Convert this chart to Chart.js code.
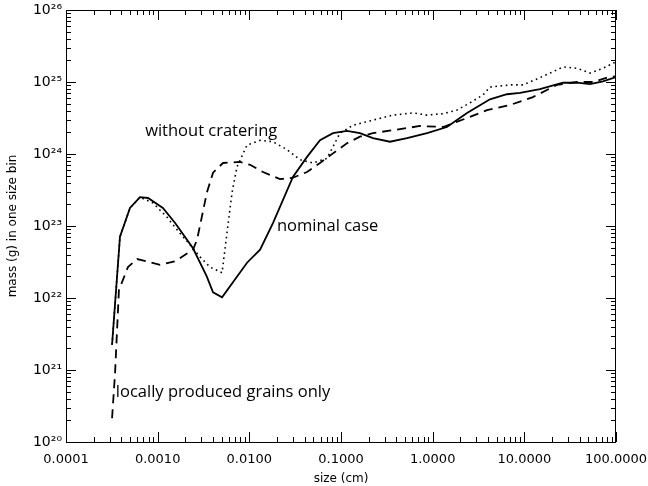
<!DOCTYPE html>
<html>
<head>
<meta charset="utf-8">
<script src="https://cdn.jsdelivr.net/npm/chart.js@4.4.1/dist/chart.umd.min.js"></script>
<style>
  html, body { margin: 0; padding: 0; background: #fff; }
  #wrap { width: 648px; height: 486px; }
</style>
</head>
<body>
<div id="wrap"><canvas id="massChart" width="648" height="486"></canvas></div>
<script>
// grain size (cm) and mass (g) per size bin
const nominalSize = [3.18e-4, 3.88e-4, 4.99e-4, 6.41e-4, 7.85e-4, 1.14e-3, 1.55e-3, 2.43e-3, 3.43e-3, 4.02e-3,
  5.04e-3, 9.44e-3, 1.31e-2, 1.81e-2, 2.99e-2, 4.26e-2, 5.90e-2, 8.18e-2, 0.116, 0.161,
  0.223, 0.342, 0.525, 0.867, 1.43, 2.37, 4.22, 6.46, 8.97, 14.8, 26.4, 37.6, 52.0, 72.1, 100];
const nominalMass = [2.24e21, 7.08e22, 1.78e23, 2.51e23, 2.45e23, 1.78e23, 1.10e23, 4.90e22, 2.00e22, 1.20e22,
  1.02e22, 3.09e22, 4.68e22, 1.10e23, 4.79e23, 9.12e23, 1.55e24, 1.95e24, 2.09e24, 1.95e24,
  1.66e24, 1.48e24, 1.66e24, 1.95e24, 2.37e24, 3.72e24, 5.75e24, 6.76e24, 7.08e24, 7.94e24, 9.77e24, 9.77e24, 9.33e24, 1.02e25, 1.17e25];

const localSize = [3.18e-4, 3.43e-4, 3.78e-4, 4.74e-4, 5.96e-4, 7.59e-4, 1.06e-3, 1.55e-3, 2.43e-3, 2.69e-3,
  3.45e-3, 4.02e-3, 5.16e-3, 7.91e-3, 1.02e-2, 1.41e-2, 2.16e-2, 2.99e-2, 4.26e-2, 5.90e-2,
  8.18e-2, 0.116, 0.161, 0.223, 0.369, 0.728, 1.30, 2.37, 3.92, 6.98, 12.4, 22.7, 37.6, 56.1, 79.8, 100];
const localMass = [2.14e20, 9.12e20, 1.29e22, 2.69e22, 3.47e22, 3.24e22, 2.88e22, 3.24e22, 4.68e22, 6.46e22,
  2.95e23, 5.50e23, 7.50e23, 7.76e23, 7.08e23, 5.62e23, 4.47e23, 4.68e23, 5.62e23, 7.50e23,
  1.02e24, 1.41e24, 1.74e24, 1.95e24, 2.14e24, 2.45e24, 2.37e24, 3.16e24, 4.07e24, 4.79e24, 6.17e24, 9.12e24, 1.00e25, 1.00e25, 1.15e25, 1.20e25];

const noCraterSize = [3.18e-4, 3.88e-4, 4.99e-4, 6.41e-4, 8.89e-4, 1.26e-3, 1.75e-3, 2.25e-3, 2.90e-3, 3.72e-3,
  5.04e-3, 5.70e-3, 6.47e-3, 7.33e-3, 9.44e-3, 1.31e-2, 1.81e-2, 2.58e-2, 3.57e-2, 4.94e-2,
  7.03e-2, 8.18e-2, 9.75e-2, 0.135, 0.223, 0.369, 0.610, 0.867, 1.30, 1.84,
  2.55, 3.54, 4.22, 6.98, 9.66, 13.7, 19.1, 26.4, 37.6, 52.0, 72.1, 100];
const noCraterMass = [2.24e21, 7.08e22, 1.78e23, 2.51e23, 2.09e23, 1.33e23, 7.94e22, 5.50e22, 3.72e22, 2.69e22,
  2.24e22, 7.94e22, 2.88e23, 6.61e23, 1.33e24, 1.55e24, 1.48e24, 1.15e24, 8.32e23, 7.50e23,
  8.71e23, 1.26e24, 1.95e24, 2.51e24, 2.95e24, 3.47e24, 3.72e24, 3.47e24, 3.63e24, 4.07e24,
  5.13e24, 6.61e24, 8.51e24, 9.12e24, 9.12e24, 1.10e25, 1.33e25, 1.62e25, 1.55e25, 1.33e25, 1.55e25, 1.91e25];

const xDecades = [1e-4, 1e-3, 1e-2, 1e-1, 1, 10, 100];
const yDecades = [1e20, 1e21, 1e22, 1e23, 1e24, 1e25, 1e26];

// curve labels, anchored in data coordinates (left edge, vertical middle)
const notes = [
  { text: 'without cratering', size: 7.3e-4, mass: 2.1e24 },
  { text: 'nominal case', size: 2.0e-2, mass: 9.8e22 },
  { text: 'locally produced grains only', size: 3.5e-4, mass: 4.9e20 }
];

const sup = { '0': '\u2070', '1': '\u00b9', '2': '\u00b2', '3': '\u00b3', '4': '\u2074',
  '5': '\u2075', '6': '\u2076', '7': '\u2077', '8': '\u2078', '9': '\u2079' };

function logTicks(decades) {
  const out = [];
  decades.forEach((d, i) => {
    if (i === decades.length - 1) { out.push({ value: d, major: true }); return; }
    for (let m = 1; m < 10; m++) out.push({ value: d * m, major: m === 1 });
  });
  return out;
}
function isDecade(v) {
  const l = Math.log10(v);
  return Math.abs(l - Math.round(l)) < 1e-9;
}
function pts(xs, ys) { return xs.map((x, i) => ({ x: x, y: ys[i] })); }

const axisFont = { family: 'DejaVu Sans', size: 13 };

const frameTicks = {
  id: 'frameTicks',
  afterDatasetsDraw(chart) {
    const { ctx, chartArea: a, scales } = chart;
    ctx.save();
    ctx.strokeStyle = '#000';
    ctx.lineWidth = 1;
    ctx.strokeRect(a.left + 0.5, a.top + 0.5, a.right - a.left - 1, a.bottom - a.top);
    ctx.beginPath();
    scales.x.ticks.forEach(t => {
      const px = Math.round(scales.x.getPixelForValue(t.value)) + 0.5;
      const len = isDecade(t.value) ? 10 : 5;
      ctx.moveTo(px, a.bottom); ctx.lineTo(px, a.bottom - len);
      ctx.moveTo(px, a.top); ctx.lineTo(px, a.top + len);
    });
    scales.y.ticks.forEach(t => {
      const py = Math.round(scales.y.getPixelForValue(t.value)) + 0.5;
      const len = isDecade(t.value) ? 10 : 5;
      ctx.moveTo(a.left, py); ctx.lineTo(a.left + len, py);
      ctx.moveTo(a.right, py); ctx.lineTo(a.right - len, py);
    });
    ctx.stroke();

    ctx.fillStyle = '#000';
    ctx.font = '16.5px "Open Sans"';
    ctx.textBaseline = 'middle';
    ctx.textAlign = 'left';
    notes.forEach(n => {
      ctx.fillText(n.text, scales.x.getPixelForValue(n.size), scales.y.getPixelForValue(n.mass));
    });
    ctx.restore();
  }
};

const line = (data, dash) => ({
  data: data,
  borderColor: '#000',
  borderWidth: dash && dash[0] < 3 ? 1.6 : 1.8,
  borderDash: dash || [],
  pointRadius: 0,
  tension: 0,
  fill: false
});

new Chart(document.getElementById('massChart').getContext('2d'), {
  type: 'line',
  data: {
    datasets: [
      line(pts(nominalSize, nominalMass)),
      line(pts(localSize, localMass), [9, 6]),
      line(pts(noCraterSize, noCraterMass), [1.6, 3.6])
    ]
  },
  options: {
    responsive: false,
    animation: false,
    layout: { padding: { top: 10, right: 32, left: 0, bottom: 0 } },
    plugins: { legend: { display: false }, tooltip: { enabled: false } },
    scales: {
      x: {
        type: 'logarithmic',
        min: xDecades[0],
        max: xDecades[xDecades.length - 1],
        grid: { display: false, drawTicks: false },
        border: { display: false },
        afterBuildTicks: s => { s.ticks = logTicks(xDecades); },
        afterFit: s => { s.height = 44; s.paddingLeft = 0; s.paddingRight = 0; },
        ticks: {
          autoSkip: false, maxRotation: 0, padding: 10, color: '#000', font: axisFont,
          callback: v => isDecade(v) ? Number(v).toFixed(4) : ''
        },
        title: { display: true, text: 'size (cm)', color: '#000', font: { family: 'DejaVu Sans', size: 12 }, padding: { top: 0, bottom: 0 } }
      },
      y: {
        type: 'logarithmic',
        min: yDecades[0],
        max: yDecades[yDecades.length - 1],
        grid: { display: false, drawTicks: false },
        border: { display: false },
        afterBuildTicks: s => { s.ticks = logTicks(yDecades); },
        afterFit: s => { s.width = 66; s.paddingTop = 0; s.paddingBottom = 0; },
        ticks: {
          autoSkip: false, padding: 4, color: '#000', font: { family: 'DejaVu Sans', size: 14 },
          callback: v => {
            if (!isDecade(v)) return '';
            const e = String(Math.round(Math.log10(v)));
            return '10' + e.split('').map(c => sup[c]).join('');
          }
        },
        title: { display: true, text: 'mass (g) in one size bin', color: '#000', font: { family: 'DejaVu Sans', size: 12 }, padding: { top: 6, bottom: 0 } }
      }
    }
  },
  plugins: [frameTicks]
});
</script>
</body>
</html>
